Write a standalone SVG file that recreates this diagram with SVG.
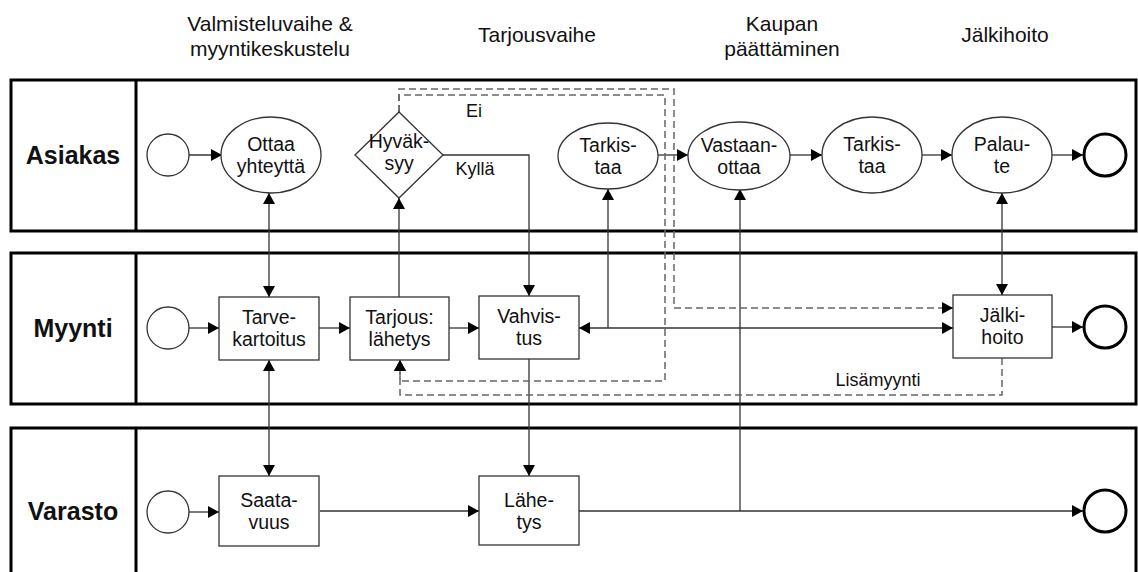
<svg xmlns="http://www.w3.org/2000/svg" width="1138" height="572" viewBox="0 0 1138 572">
<style>
text{font-family:"Liberation Sans",Arial,sans-serif;fill:#111;text-anchor:middle}
.hdr{font-size:21px}
.lane{font-size:25px;font-weight:bold}
.nt{font-size:19.5px}
.lbl{font-size:18px}
.lanebox{fill:none;stroke:#000;stroke-width:3}
.node{fill:#fff;stroke:#333;stroke-width:1.3}
.endc{fill:#fff;stroke:#000;stroke-width:3}
.c{fill:none;stroke:#333;stroke-width:1.3}
.d{fill:none;stroke:#666;stroke-width:1.5;stroke-dasharray:7 4}
</style>
<defs>
<marker id="ar" markerUnits="userSpaceOnUse" markerWidth="11" markerHeight="12" viewBox="0 0 11 12" refX="11" refY="6" orient="auto-start-reverse">
<path d="M0,0 L11,6 L0,12 z" fill="#000"/>
</marker>
</defs>
<rect width="1138" height="572" fill="#fff"/>
<g id="headers">
<text class="hdr" x="270" y="31">Valmisteluvaihe &amp;</text>
<text class="hdr" x="270" y="56">myyntikeskustelu</text>
<text class="hdr" x="537" y="42">Tarjousvaihe</text>
<text class="hdr" x="782" y="31">Kaupan</text>
<text class="hdr" x="782" y="56">päättäminen</text>
<text class="hdr" x="1005" y="42">Jälkihoito</text>
</g>
<g id="lane-asiakas">
<rect class="lanebox" x="11" y="80" width="1125" height="151"/>
<line class="lanebox" x1="136" y1="80" x2="136" y2="231"/>
<text class="lane" x="73" y="164">Asiakas</text>
</g>
<g id="lane-myynti">
<rect class="lanebox" x="11" y="253" width="1125" height="151"/>
<line class="lanebox" x1="136" y1="253" x2="136" y2="404"/>
<text class="lane" x="73" y="337">Myynti</text>
</g>
<g id="lane-varasto">
<rect class="lanebox" x="11" y="428" width="1125" height="170"/>
<line class="lanebox" x1="136" y1="428" x2="136" y2="580"/>
<text class="lane" x="73" y="520">Varasto</text>
</g>
<g id="connectors">
<path class="c" d="M189,155 H222" marker-end="url(#ar)"/>
<path class="c" d="M269,193 V297" marker-start="url(#ar)" marker-end="url(#ar)"/>
<path class="c" d="M269,360 V476" marker-start="url(#ar)" marker-end="url(#ar)"/>
<path class="c" d="M189,328 H219" marker-end="url(#ar)"/>
<path class="c" d="M319,328 H350" marker-end="url(#ar)"/>
<path class="c" d="M449,328 H479" marker-end="url(#ar)"/>
<path class="c" d="M399,297 V198" marker-end="url(#ar)"/>
<path class="c" d="M443,155 H529 V296" marker-end="url(#ar)"/>
<path class="c" d="M953,328 H579" marker-start="url(#ar)" marker-end="url(#ar)"/>
<path class="c" d="M608,328 V189" marker-end="url(#ar)"/>
<path class="c" d="M658,155 H688" marker-end="url(#ar)"/>
<path class="c" d="M790,155 H822" marker-end="url(#ar)"/>
<path class="c" d="M922,155 H952" marker-end="url(#ar)"/>
<path class="c" d="M1052,155 H1083" marker-end="url(#ar)"/>
<path class="c" d="M1002,193 V295" marker-start="url(#ar)" marker-end="url(#ar)"/>
<path class="c" d="M1052,327 H1083" marker-end="url(#ar)"/>
<path class="c" d="M529,359 V476" marker-end="url(#ar)"/>
<path class="c" d="M189,512 H219" marker-end="url(#ar)"/>
<path class="c" d="M320,511 H479" marker-end="url(#ar)"/>
<path class="c" d="M579,511 H1083" marker-end="url(#ar)"/>
<path class="c" d="M740,511 V189" marker-end="url(#ar)"/>
<path class="d" d="M399,112 V89 H674 V308 H953" marker-end="url(#ar)"/>
<path class="d" d="M399,112 V95 H665 V381 H400 V360" marker-end="url(#ar)"/>
<path class="d" d="M1002,358 V395 H400 V360" marker-end="url(#ar)"/>
<text class="lbl" x="474" y="117">Ei</text>
<text class="lbl" x="475" y="175">Kyllä</text>
<text class="lbl" x="878" y="386">Lisämyynti</text>
</g>
<g id="start-asiakas"><circle class="node" cx="168" cy="155" r="21"/></g>
<g id="ottaa"><ellipse class="node" cx="271" cy="155" rx="50" ry="38"/><text class="nt" x="271" y="151">Ottaa</text><text class="nt" x="271" y="173">yhteyttä</text></g>
<g id="hyvaksyy"><path class="node" d="M399,112 L443,155 L399,198 L355,155 z"/><text class="nt" x="399" y="148">Hyväk-</text><text class="nt" x="399" y="170">syy</text></g>
<g id="tarkistaa1"><ellipse class="node" cx="608" cy="156" rx="50" ry="33"/><text class="nt" x="608" y="152">Tarkis-</text><text class="nt" x="608" y="174">taa</text></g>
<g id="vastaanottaa"><ellipse class="node" cx="739" cy="156" rx="51" ry="34"/><text class="nt" x="739" y="152">Vastaan-</text><text class="nt" x="739" y="174">ottaa</text></g>
<g id="tarkistaa2"><ellipse class="node" cx="872" cy="155" rx="50" ry="38"/><text class="nt" x="872" y="151">Tarkis-</text><text class="nt" x="872" y="173">taa</text></g>
<g id="palaute"><ellipse class="node" cx="1002" cy="155" rx="50" ry="38"/><text class="nt" x="1002" y="151">Palau-</text><text class="nt" x="1002" y="173">te</text></g>
<g id="end-asiakas"><circle class="endc" cx="1105" cy="155" r="21"/></g>
<g id="start-myynti"><circle class="node" cx="168" cy="328" r="21"/></g>
<g id="tarvekartoitus"><rect class="node" x="219" y="297" width="100" height="63"/><text class="nt" x="269" y="324">Tarve-</text><text class="nt" x="269" y="346">kartoitus</text></g>
<g id="tarjous"><rect class="node" x="350" y="297" width="99" height="63"/><text class="nt" x="399.5" y="324">Tarjous:</text><text class="nt" x="399.5" y="346">lähetys</text></g>
<g id="vahvistus"><rect class="node" x="479" y="296" width="100" height="63"/><text class="nt" x="529" y="323">Vahvis-</text><text class="nt" x="529" y="345">tus</text></g>
<g id="jalkihoito"><rect class="node" x="953" y="295" width="99" height="63"/><text class="nt" x="1002.5" y="322">Jälki-</text><text class="nt" x="1002.5" y="344">hoito</text></g>
<g id="end-myynti"><circle class="endc" cx="1105" cy="327" r="21"/></g>
<g id="start-varasto"><circle class="node" cx="168" cy="512" r="21"/></g>
<g id="saatavuus"><rect class="node" x="219" y="476" width="100" height="70"/><text class="nt" x="269" y="507">Saata-</text><text class="nt" x="269" y="529">vuus</text></g>
<g id="lahetys"><rect class="node" x="479" y="476" width="100" height="69"/><text class="nt" x="529" y="507">Lähe-</text><text class="nt" x="529" y="529">tys</text></g>
<g id="end-varasto"><circle class="endc" cx="1105" cy="511" r="21"/></g>
</svg>
